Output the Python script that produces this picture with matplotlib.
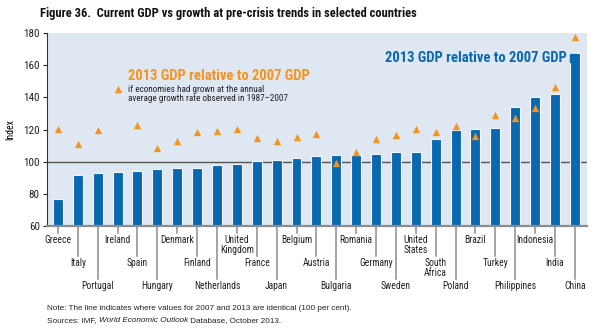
import numpy as np
import matplotlib
matplotlib.use("Agg")
import matplotlib.pyplot as plt
import matplotlib.transforms as mtransforms
from matplotlib import font_manager

countries = ["Greece", "Italy", "Portugal", "Ireland", "Spain", "Hungary", "Denmark",
             "Finland", "Netherlands", "United\nKingdom", "France", "Japan", "Belgium",
             "Austria", "Bulgaria", "Romania", "Germany", "Sweden", "United\nStates",
             "South\nAfrica", "Poland", "Brazil", "Turkey", "Philippines", "Indonesia",
             "India", "China"]
# 2013 GDP relative to 2007 GDP (index, 2007 = 100)
gdp_2013 = [77, 91.7, 93, 93.5, 94.4, 95.4, 95.8, 95.8, 97.9, 98.5, 100.6, 101, 102.3,
            103.5, 104.1, 104, 104.8, 105.8, 105.8, 114.1, 119.7, 120.1, 120.9, 134.2,
            140.4, 142, 167.4]
# 2013 GDP relative to 2007 GDP at 1987-2007 average growth
gdp_trend = [120.3, 111.2, 120, 145, 122.8, 108.7, 113, 118.4, 119, 120.5, 114.7, 113,
             115.5, 117.2, 99, 105.8, 114.1, 116.8, 120.5, 118.4, 122.4, 116, 128.8, 127,
             133.6, 146.4, 177.3]
yticks = [60, 80, 100, 120, 140, 160, 180]

# pick a condensed face if one is around
names = {f.name for f in font_manager.fontManager.ttflist}
fam = "Liberation Sans"
for cand in ["Roboto Condensed", "Archivo Narrow", "PT Sans Narrow", "Fira Sans Condensed",
             "Liberation Sans Narrow", "Arial Narrow", "Encode Sans Condensed",
             "Barlow Semi Condensed", "IBM Plex Sans Condensed"]:
    if cand in names:
        fam = cand
        break
plt.rcParams["font.family"] = [fam, "DejaVu Sans"]

blue = "#0a68b0"
orange = "#f2941e"
grey = "#8c8c8c"
dark = "#222222"

fig = plt.figure(figsize=(6, 3.3), dpi=100)
ax = fig.add_axes([0.078, 0.315, 0.9, 0.585])
ax.set_facecolor("#dfe7f3")

x = np.arange(len(countries))
ax.bar(x, gdp_2013, width=0.5, bottom=0, color=blue, edgecolor="#f4f7fb", linewidth=0.8, zorder=2)
ax.scatter(x, gdp_trend, marker="^", s=28, color=orange, zorder=3, linewidths=0)
ax.axhline(100, color="#555555", linewidth=1.0, zorder=1)

ax.set_ylim(60, 180)
ax.set_xlim(-0.56, 26.6)
ax.set_yticks(yticks)
ax.tick_params(axis="y", labelsize=8, length=3, width=0.8, colors=dark, pad=2)
ax.set_xticks([])
for s in ["top", "right"]:
    ax.spines[s].set_visible(False)
ax.spines["left"].set_color("#333333")
ax.spines["left"].set_linewidth(0.8)
ax.spines["bottom"].set_color(grey)
ax.spines["bottom"].set_linewidth(1.6)
ax.set_ylabel("Index", fontsize=7, labelpad=6)

# staggered country labels with leader lines
trans = mtransforms.blended_transform_factory(ax.transData, ax.transAxes)
depth = [-0.035, -0.155, -0.275]
for i, name in enumerate(countries):
    lvl = i % 3
    ax.plot([i, i], [0, depth[lvl]], color=grey, lw=1.1, transform=trans, clip_on=False)
    ax.text(i, depth[lvl] - 0.01, name, transform=trans, ha="center", va="top",
            fontsize=6.9, color=dark, linespacing=1.0)

# series labels
ax.text(567 / 600, 1 - 58 / 330, "2013 GDP relative to 2007 GDP", transform=fig.transFigure,
        ha="right", va="center", fontsize=10.5, fontweight="bold", color=blue)
fig.patches.append(plt.Rectangle((570 / 600, 1 - 62 / 330), 6 / 600, 8 / 330,
                                 transform=fig.transFigure, color=blue))
ax.text(3.5, 153, "2013 GDP relative to 2007 GDP", ha="left", va="center",
        fontsize=10.5, fontweight="bold", color=orange)
ax.text(3.5, 142.2, "if economies had grown at the annual\naverage growth rate observed in 1987\u20132007",
        ha="left", va="center", fontsize=6.6, color=dark, linespacing=1.05)

fig.text(40 / 600, 1 - 14 / 330, "Figure 36.  Current GDP vs growth at pre-crisis trends in selected countries",
         ha="left", va="center", fontsize=9, fontweight="bold", color="#111111")

fig.text(47 / 600, 1 - 308 / 330,
         "Note: The line indicates where values for 2007 and 2013 are identical (100 per cent).",
         ha="left", va="center", fontsize=5.9, color=dark, family="Liberation Sans")

# sources line with italic database name
fig.canvas.draw()
r = fig.canvas.get_renderer()
xpos = 47 / 600
for piece, style in [("Sources: IMF, ", "normal"), ("World Economic Outlook", "italic"),
                     (" Database, October 2013.", "normal")]:
    t = fig.text(xpos, 1 - 322 / 330, piece, ha="left", va="baseline", fontsize=5.9,
                 color=dark, style=style, family="Liberation Sans")
    bb = t.get_window_extent(r)
    xpos += bb.width / fig.bbox.width

fig.savefig("out.png", dpi=100)
